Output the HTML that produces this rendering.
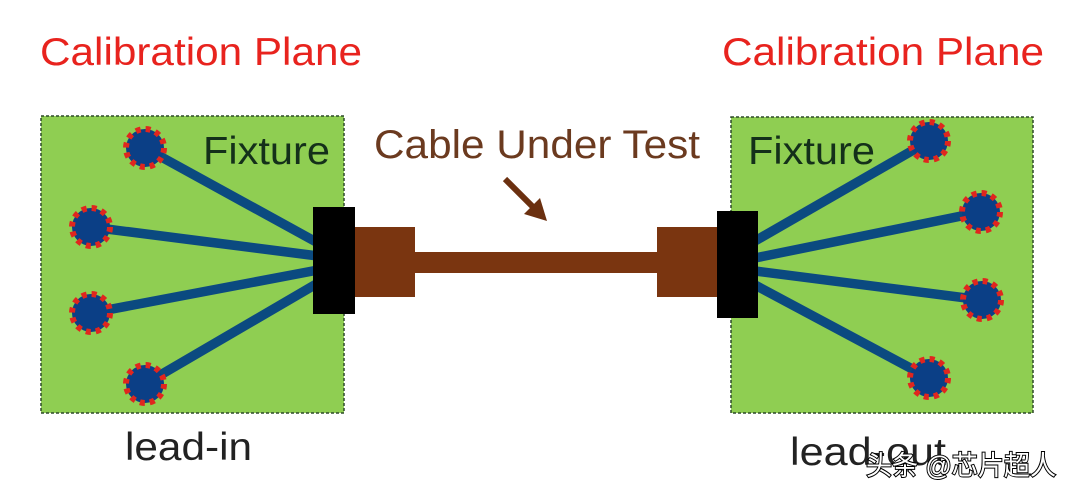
<!DOCTYPE html>
<html><head><meta charset="utf-8"><style>
html,body{margin:0;padding:0;background:#fff;}
svg{display:block;}
text{font-family:"Liberation Sans","Noto Sans CJK SC",sans-serif;}
</style></head><body>
<svg width="1080" height="498" viewBox="0 0 1080 498" xmlns="http://www.w3.org/2000/svg">
<defs>
<g id="node">
<circle r="19" fill="#0b3f86"/>
<circle r="19" fill="none" stroke="#e0261e" stroke-width="6" stroke-dasharray="5 5"/>
</g>
</defs>
<text x="40" y="65" font-size="39" fill="#e8231e" textLength="322" lengthAdjust="spacingAndGlyphs">Calibration Plane</text>
<text x="722" y="65" font-size="39" fill="#e8231e" textLength="322" lengthAdjust="spacingAndGlyphs">Calibration Plane</text>

<rect x="41" y="116" width="303" height="297" fill="#8fce52" stroke="#2e4a2a" stroke-width="1.5" stroke-dasharray="3 2"/>
<rect x="731" y="117" width="302" height="296" fill="#8fce52" stroke="#2e4a2a" stroke-width="1.5" stroke-dasharray="3 2"/>

<text x="203" y="164" font-size="39" fill="#14301a" textLength="127" lengthAdjust="spacingAndGlyphs">Fixture</text>
<text x="748" y="164" font-size="39" fill="#14301a" textLength="127" lengthAdjust="spacingAndGlyphs">Fixture</text>

<g stroke="#0b4a80" stroke-width="9.5" stroke-linecap="butt">
<line x1="145" y1="148" x2="318" y2="243"/>
<line x1="91" y1="227" x2="318" y2="256"/>
<line x1="91" y1="313" x2="318" y2="270"/>
<line x1="145" y1="384" x2="318" y2="283"/>
<line x1="929" y1="141" x2="755" y2="241"/>
<line x1="981" y1="212" x2="755" y2="258"/>
<line x1="982" y1="300" x2="755" y2="271"/>
<line x1="929" y1="378" x2="755" y2="285"/>
</g>
<use href="#node" x="145" y="148"/>
<use href="#node" x="91" y="227"/>
<use href="#node" x="91" y="313"/>
<use href="#node" x="145" y="384"/>
<use href="#node" x="929" y="141"/>
<use href="#node" x="981" y="212"/>
<use href="#node" x="982" y="300"/>
<use href="#node" x="929" y="378"/>

<rect x="355" y="227" width="60" height="70" fill="#7a3510"/>
<rect x="415" y="252" width="243" height="21" fill="#7a3510"/>
<rect x="657" y="227" width="60" height="70" fill="#7a3510"/>
<rect x="313" y="207" width="42" height="107" fill="#000"/>
<rect x="717" y="211" width="41" height="107" fill="#000"/>

<text x="374" y="158" font-size="40" fill="#6b3a1f" textLength="326" lengthAdjust="spacingAndGlyphs">Cable Under Test</text>
<line x1="505" y1="179" x2="534" y2="208" stroke="#6b3010" stroke-width="6"/>
<polygon points="547,221 524,214 540,198" fill="#6b3010"/>

<text x="125" y="460" font-size="39" fill="#222" textLength="127" lengthAdjust="spacingAndGlyphs">lead-in</text>
<text x="790" y="465" font-size="39" fill="#222" textLength="156" lengthAdjust="spacingAndGlyphs">lead-out</text>
<text x="866" y="475" font-size="27" fill="#fff" stroke="#000" stroke-width="2" paint-order="stroke" textLength="190" lengthAdjust="spacingAndGlyphs">头条 @芯片超人</text>
</svg>
</body></html>
